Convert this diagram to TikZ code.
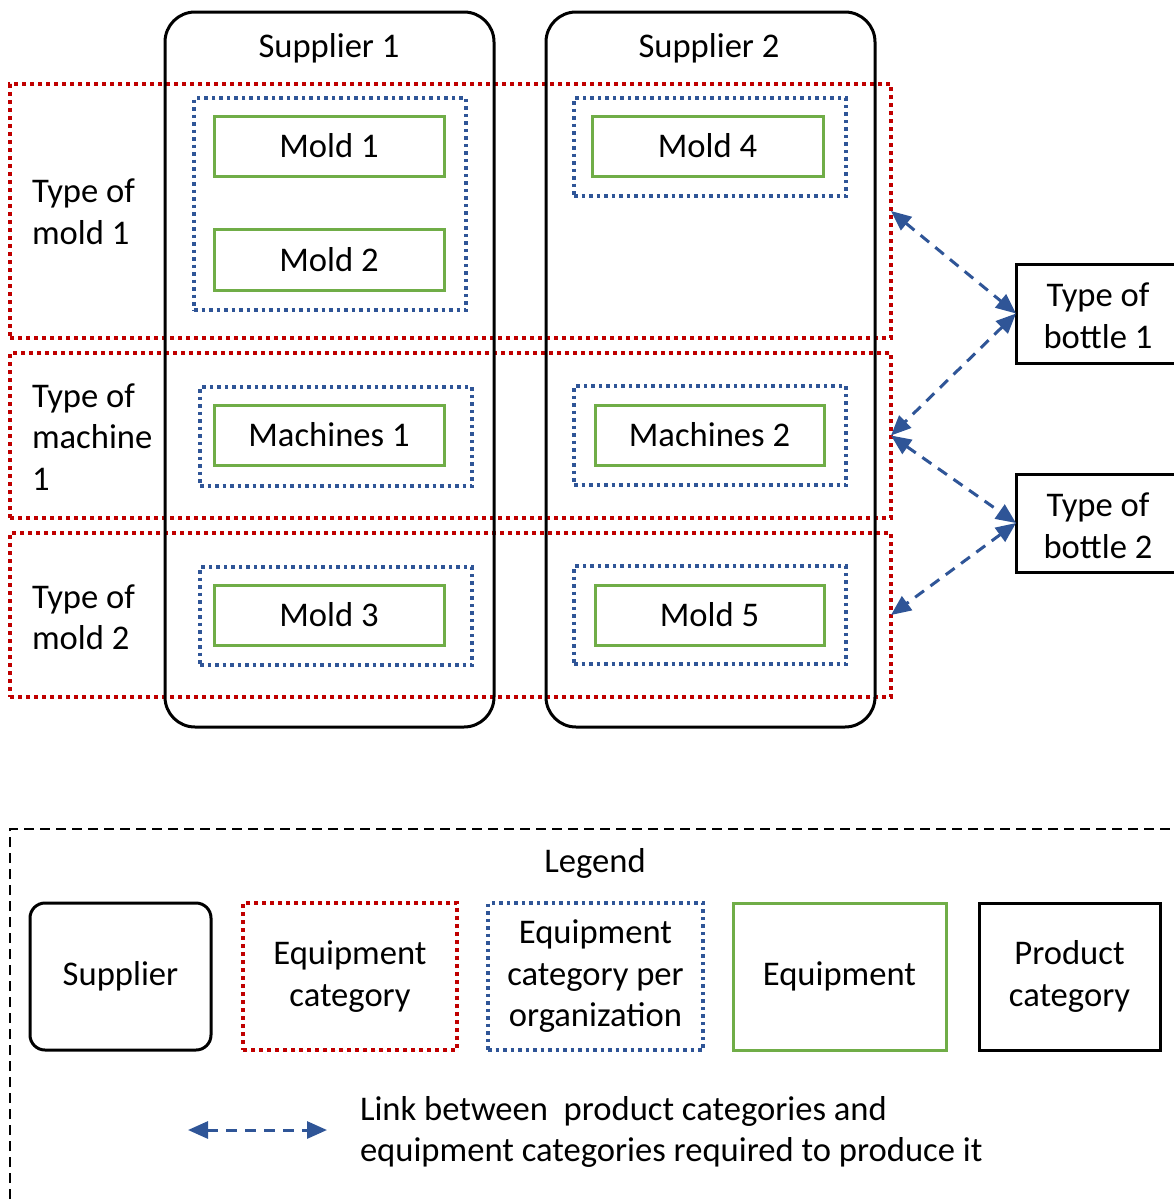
\documentclass[tikz,border=0pt]{standalone}
\usepackage{fontspec}
\setmainfont{Carlito}
\usetikzlibrary{arrows.meta}
\definecolor{cred}{RGB}{192,0,0}
\definecolor{cblue}{RGB}{47,85,151}
\definecolor{cgreen}{RGB}{112,173,71}
\begin{document}
\begin{tikzpicture}[x=1pt,y=-1pt,
  every node/.style={inner sep=0pt, outer sep=0pt, font=\fontsize{34.6}{41.5}\selectfont},
  supbox/.style={draw=black, line width=3pt, rounded corners=30pt},
  catbox/.style={draw=cred, line width=4pt, dash pattern=on 4pt off 4pt},
  orgbox/.style={draw=cblue, line width=3.5pt, dash pattern=on 3.5pt off 4pt},
  eqbox/.style={draw=cgreen, line width=3pt, minimum width=230, minimum height=60},
  prodbox/.style={draw=black, line width=3pt, align=center},
  lbl/.style={align=left, anchor=west},
  link/.style={draw=cblue, line width=3pt, dash pattern=on 11pt off 8pt,
    {Triangle[length=20pt,width=17pt]}-{Triangle[length=20pt,width=17pt]}},
  legbox/.style={minimum width=#1, minimum height=147, align=center}
]
\useasboundingbox (0,0) rectangle (1173,1202);

% equipment categories (red)
\node[catbox, minimum width=881, minimum height=254] (r1) at (450.5,211) {};
\node[catbox, minimum width=881, minimum height=165] (r2) at (450.5,435.5) {};
\node[catbox, minimum width=881, minimum height=164] (r3) at (450.5,615) {};

% suppliers
\node[supbox, minimum width=329, minimum height=715] (s1) at (329.5,369.5) {};
\node[supbox, minimum width=329, minimum height=715] (s2) at (710.5,369.5) {};
\node (s1t) at (329,48) {Supplier 1};
\node (s2t) at (709,48) {Supplier 2};

% category labels
\node[lbl] (l1) at (32,212) {Type of\\mold 1};
\node[lbl] (l2) at (32,437) {Type of\\machine\\1};
\node[lbl] (l3) at (32,617) {Type of\\mold 2};

% equipment categories per organization (blue)
\node[orgbox, minimum width=272, minimum height=212] (b1) at (330,204) {};
\node[orgbox, minimum width=272, minimum height=98] (b2) at (710,147) {};
\node[orgbox, minimum width=272, minimum height=99] (b3) at (336,436.5) {};
\node[orgbox, minimum width=272, minimum height=99] (b4) at (710,435.5) {};
\node[orgbox, minimum width=272, minimum height=98] (b5) at (336,616) {};
\node[orgbox, minimum width=272, minimum height=98] (b6) at (710,615) {};

% equipment (green)
\node[eqbox] (g1) at (329,146) {Mold 1};
\node[eqbox, minimum height=61] (g2) at (329,259.5) {Mold 2};
\node[eqbox, minimum width=231] (g4) at (707.5,146) {Mold 4};
\node[eqbox] (gm1) at (329,435) {Machines 1};
\node[eqbox, minimum width=229] (gm2) at (709.5,435) {Machines 2};
\node[eqbox] (g3) at (329,615) {Mold 3};
\node[eqbox, minimum width=229] (g5) at (709.5,615) {Mold 5};

% product categories
\node[prodbox, minimum width=161, minimum height=99] (p1) at (1096.5,313.5) {};
\node (p1t) at (1098,316) [align=center] {Type of\\bottle 1};
\node[prodbox, minimum width=161, minimum height=98] (p2) at (1096.5,523) {};
\node (p2t) at (1098,526) [align=center] {Type of\\bottle 2};

% links
\draw[link] (r1.east) -- (p1.west);
\draw[link] (p1.west) -- (r2.east);
\draw[link] (r2.east) -- (p2.west);
\draw[link] (p2.west) -- (r3.east);

% legend
\draw[line width=2pt, dash pattern=on 10pt off 6pt] (10,1215) -- (10,829) -- (1190,829);
\node (legt) at (595,863) {Legend};
\node[legbox=181, draw=black, line width=3pt, rounded corners=15pt] (lsup) at (120.5,976.5) {Supplier};
\node[legbox=214, catbox] (lcat) at (350,976.5) {Equipment\\category};
\node[legbox=215, orgbox] (lorg) at (595.5,976.5) {Equipment\\category per\\organization};
\node[legbox=213, draw=cgreen, line width=3pt] (leq) at (839.5,976.5) {Equipment};
\node[legbox=181, draw=black, line width=3pt] (lprod) at (1069.5,976.5) {Product\\category};

\coordinate (la) at (188,1130);
\coordinate (lb) at (327,1130);
\draw[link] (la) -- (lb);
\node[lbl] (ltext) at (360,1132) {Link between\ \ product categories and\\equipment categories required to produce it};
\end{tikzpicture}
\end{document}
